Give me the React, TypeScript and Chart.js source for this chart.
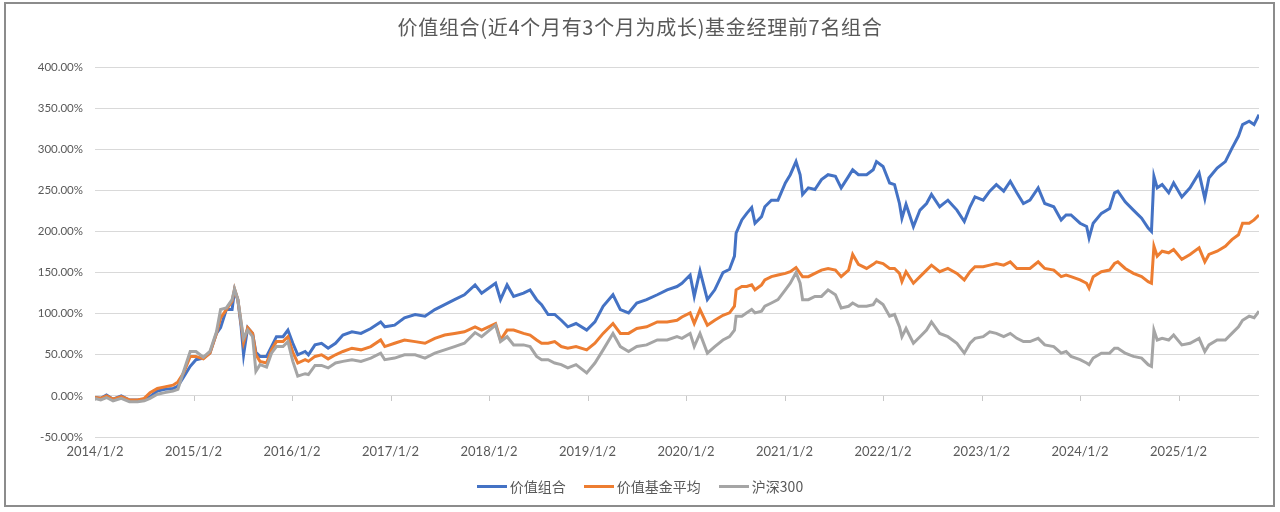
import React, { useEffect, useRef } from "react";
import { Chart, registerables } from "chart.js";

Chart.register(...registerables);

// Months elapsed since 2014/1/2 at which values were read
const monthIdx = [
  0, 0.7, 1.4, 2.2, 3.2, 4.2, 5.2, 6.0, 6.7, 7.6,
  8.5, 9.5, 10.1, 10.8, 11.6, 12.3, 13.2, 14.0, 14.8, 15.3,
  16.0, 16.7, 17.0, 17.4, 17.8, 18.1, 18.6, 19.2, 19.6, 20.1,
  20.9, 21.5, 22.1, 22.9, 23.5, 24.1, 24.7, 25.6, 26.0, 26.8,
  27.6, 28.4, 29.3, 30.2, 31.3, 32.4, 33.6, 34.8, 35.3, 36.5,
  37.7, 39.0, 40.2, 41.4, 42.6, 43.8, 45.0, 46.3, 47.1, 48.8,
  49.4, 50.2, 51.0, 52.2, 53.0, 53.8, 54.4, 55.2, 56.0, 56.8,
  57.6, 58.6, 59.9, 60.9, 61.9, 63.1, 64.0, 65.0, 66.0, 67.2,
  68.5, 69.7, 70.9, 71.5, 72.5, 73.0, 73.7, 74.6, 75.5, 76.5,
  77.3, 77.9, 78.1, 78.8, 79.4, 80.0, 80.4, 81.2, 81.6, 82.4,
  83.2, 84.1, 84.7, 85.4, 85.9, 86.2, 86.9, 87.7, 88.5, 89.3,
  90.2, 90.9, 91.8, 92.3, 93.0, 94.0, 94.8, 95.2, 96.0, 96.8,
  97.4, 98.0, 98.3, 98.8, 99.7, 100.5, 101.3, 101.9, 102.9, 103.9,
  105.0, 105.9, 106.6, 107.2, 108.2, 109.0, 109.8, 110.7, 111.5, 112.3,
  113.1, 113.9, 114.9, 115.7, 116.8, 117.7, 118.3, 118.9, 120.0, 120.8,
  121.1, 121.6, 122.6, 123.6, 124.2, 124.6, 125.5, 126.5, 127.5, 128.3,
  128.7, 129.0, 129.4, 130.0, 130.8, 131.4, 132.4, 133.4, 134.5, 135.2,
  135.7, 136.7, 137.7, 138.5, 139.3, 139.8, 140.6, 141.2, 141.8,
];

// 价值组合 (%)
const valuePortfolio = [
  -2, -3, 1, -4, 0, -5, -5, -4, -1, 6,
  8, 9, 12, 23, 36, 44, 46, 52, 76, 83,
  105, 105, 128, 117, 84, 50, 83, 76, 53, 48,
  48, 60, 72, 72, 80, 64, 50, 54, 50, 62,
  64, 58, 64, 74, 78, 76, 82, 90, 84, 86,
  95, 99, 97, 105, 111, 117, 123, 135, 125, 137,
  117, 135, 121, 125, 129, 117, 111, 99, 99, 92,
  84, 88, 80, 90, 109, 123, 105, 101, 113, 117,
  123, 129, 133, 137, 147, 121, 152, 117, 129, 150,
  154, 170, 198, 214, 222, 229, 210, 218, 230, 238,
  238, 259, 269, 285, 269, 245, 253, 251, 263, 269,
  267, 253, 267, 275, 269, 269, 275, 285, 279, 259,
  257, 234, 216, 233, 206, 226, 234, 245, 230, 238,
  226, 212, 230, 242, 238, 249, 257, 249, 261, 247,
  234, 238, 253, 234, 230, 214, 220, 220, 210, 206,
  192, 210, 222, 228, 247, 249, 236, 226, 216, 204,
  200, 267, 253, 257, 247, 259, 242, 253, 271, 240,
  265, 277, 285, 301, 316, 330, 334, 330, 342,
];

// 价值基金平均 (%)
const valueFundAvg = [
  -2, -3, 0, -4, -1, -5, -5, -3, 4, 9,
  11, 13, 17, 28, 48, 48, 45, 52, 76, 95,
  105, 115, 130, 117, 88, 65, 83, 76, 50, 42,
  40, 56, 66, 66, 72, 53, 40, 44, 42, 48,
  50, 45, 50, 54, 58, 56, 60, 68, 60, 64,
  68, 66, 64, 70, 74, 76, 78, 84, 80, 88,
  68, 80, 80, 76, 74, 68, 64, 64, 66, 60,
  58, 60, 56, 64, 76, 88, 76, 76, 82, 84,
  90, 90, 92, 96, 101, 88, 105, 86, 92, 98,
  101, 109, 129, 133, 133, 135, 129, 135, 141, 145,
  147, 149, 151, 156, 149, 145, 145, 149, 153, 155,
  153, 145, 153, 172, 160, 155, 160, 163, 161, 155,
  155, 149, 139, 151, 137, 145, 153, 159, 151, 155,
  149, 141, 151, 157, 157, 159, 161, 159, 163, 155,
  155, 155, 163, 155, 153, 145, 147, 145, 141, 137,
  131, 145, 151, 153, 161, 163, 155, 149, 145, 139,
  137, 182, 170, 176, 174, 178, 166, 172, 180, 163,
  172, 176, 182, 190, 196, 210, 210, 214, 220,
];

// 沪深300 (%)
const csi300 = [
  -3, -5, -2, -6, -3, -7, -7, -6, -3, 2,
  4, 6, 8, 30, 54, 54, 47, 54, 78, 105,
  107, 117, 130, 117, 90, 70, 80, 72, 30, 38,
  35, 52, 60, 60, 66, 42, 24, 27, 26, 37,
  37, 34, 40, 42, 44, 42, 46, 52, 44, 46,
  50, 50, 46, 52, 56, 60, 64, 77, 72, 86,
  66, 72, 62, 62, 60, 48, 44, 44, 40, 38,
  34, 38, 28, 40, 56, 76, 60, 54, 60, 62,
  68, 68, 72, 70, 76, 60, 76, 52, 60, 68,
  72, 80, 97, 97, 101, 105, 101, 103, 109, 113,
  117, 129, 137, 150, 137, 117, 117, 121, 121, 129,
  123, 107, 109, 113, 109, 109, 111, 117, 111, 97,
  99, 84, 72, 82, 64, 72, 80, 90, 76, 72,
  64, 52, 64, 70, 72, 78, 76, 72, 76, 70,
  66, 66, 70, 62, 60, 52, 54, 48, 44, 40,
  38, 46, 52, 52, 58, 58, 52, 48, 46, 38,
  36, 80, 68, 70, 68, 74, 62, 64, 70, 54,
  62, 68, 68, 76, 84, 92, 97, 95, 103,
];

const yearLabels = [
  "2014/1/2", "2015/1/2", "2016/1/2", "2017/1/2", "2018/1/2", "2019/1/2",
  "2020/1/2", "2021/1/2", "2022/1/2", "2023/1/2", "2024/1/2", "2025/1/2",
];
const seriesNames = ["价值组合", "价值基金平均", "沪深300"];
const seriesColors = ["#4472C4", "#ED7D31", "#A5A5A5"];
const chartTitle = "价值组合(近4个月有3个月为成长)基金经理前7名组合";
const yMin = -50;
const yMax = 400;
const yStep = 50;
const xMax = 141.8;

export default function App() {
  const ref = useRef<HTMLCanvasElement>(null);

  useEffect(() => {
    if (!ref.current) return;
    const toPts = (vals: number[]) => vals.map((v, i) => ({ x: monthIdx[i], y: v }));
    const seriesValues = [valuePortfolio, valueFundAvg, csi300];

    const tickMarks = {
      id: "tickMarks",
      beforeDatasetsDraw(chart: any) {
        const { ctx, scales } = chart;
        const x = scales.x;
        const y = scales.y;
        const y0 = Math.round(y.getPixelForValue(0));
        ctx.save();
        ctx.strokeStyle = "#c8c8c8";
        ctx.lineWidth = 1;
        yearLabels.forEach((_, i) => {
          const px = Math.round(x.getPixelForValue(i * 12)) + 0.5;
          ctx.beginPath();
          ctx.moveTo(px, y0);
          ctx.lineTo(px, y0 + 5);
          ctx.stroke();
        });
        ctx.restore();
      },
    };

    const chart = new Chart(ref.current, {
      type: "line",
      data: {
        datasets: seriesValues.map((vals, i) => ({
          label: seriesNames[i],
          data: toPts(vals),
          borderColor: seriesColors[i],
          backgroundColor: seriesColors[i],
          borderWidth: 3,
          pointRadius: 0,
          tension: 0,
          order: 3 - i,
        })),
      },
      options: {
        animation: false,
        responsive: false,
        layout: { padding: { left: 0, top: 67, right: 21, bottom: 45 } },
        plugins: {
          legend: { display: false },
          title: { display: false },
          tooltip: { enabled: false },
        },
        scales: {
          x: {
            type: "linear",
            min: 0,
            max: xMax,
            afterBuildTicks: (s: any) => {
              s.ticks = yearLabels.map((_, i) => ({ value: i * 12 }));
            },
            afterFit: (s: any) => {
              s.height = 30;
            },
            grid: { display: false, drawTicks: false },
            border: { display: false },
            ticks: {
              autoSkip: false,
              maxRotation: 0,
              padding: 7,
              color: "#595959",
              font: { family: "Lato", size: 13 },
              callback: (_v: any, idx: number) => yearLabels[idx] ?? "",
            },
          },
          y: {
            min: yMin,
            max: yMax,
            afterFit: (s: any) => {
              s.width = 95;
            },
            grid: { color: "#d9d9d9", drawTicks: false, lineWidth: 1 },
            border: { display: false },
            ticks: {
              stepSize: yStep,
              padding: 12,
              color: "#595959",
              font: { family: "Lato", size: 11.5 },
              callback: (v: any) => Number(v).toFixed(2) + "%",
            },
          },
        },
      } as any,
      plugins: [tickMarks],
    });
    return () => chart.destroy();
  }, []);

  return (
    <div
      style={{
        position: "absolute",
        left: 0,
        top: 0,
        width: 1280,
        height: 512,
        background: "#fff",
        overflow: "hidden",
      }}
    >
      <div
        style={{
          position: "absolute",
          left: 4,
          top: 2,
          width: 1271,
          height: 505,
          boxSizing: "border-box",
          border: "2px solid #8c8c8c",
        }}
      />
      <canvas
        ref={ref}
        width={1280}
        height={512}
        style={{ position: "absolute", left: 0, top: 0, display: "block" }}
      />
      <div
        style={{
          position: "absolute",
          left: 0,
          top: 15,
          width: 1280,
          textAlign: "center",
          fontFamily: "'Noto Sans CJK SC', sans-serif",
          fontSize: 20,
          lineHeight: "24px",
          letterSpacing: "0.7px",
          color: "#595959",
        }}
      >
        {chartTitle}
      </div>
      <div
        style={{
          position: "absolute",
          left: 0,
          top: 477,
          width: 1280,
          display: "flex",
          justifyContent: "center",
          gap: 18,
          fontFamily: "'Noto Sans CJK SC', sans-serif",
          fontSize: 14,
          lineHeight: "18px",
          color: "#595959",
        }}
      >
        {seriesNames.map((n, i) => (
          <div key={n} style={{ display: "flex", alignItems: "center" }}>
            <span
              style={{
                display: "inline-block",
                width: 30,
                height: 3,
                background: seriesColors[i],
                marginRight: 3,
              }}
            />
            <span>{n}</span>
          </div>
        ))}
      </div>
    </div>
  );
}
